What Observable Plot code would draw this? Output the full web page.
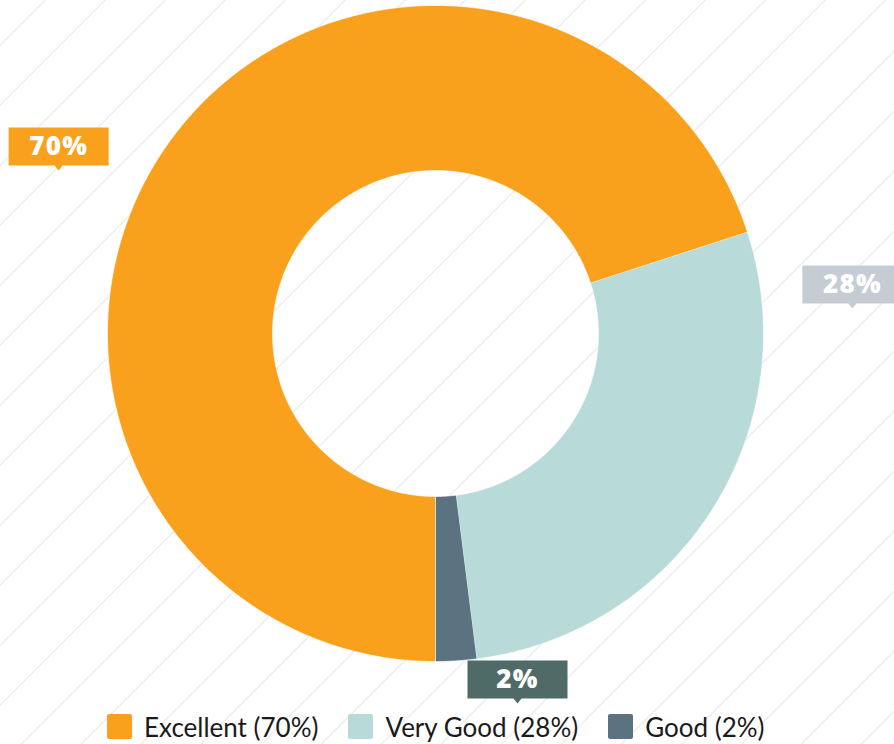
<!DOCTYPE html>
<html>
<head>
<meta charset="utf-8">
<script src="https://cdn.jsdelivr.net/npm/d3@7"></script>
<script src="https://cdn.jsdelivr.net/npm/@observablehq/plot@0.6"></script>
<style>
  html, body { margin: 0; padding: 0; }
  body {
    width: 894px; height: 744px; overflow: hidden;
    background: repeating-linear-gradient(135deg,
      rgba(0,0,0,0) 0px, rgba(0,0,0,0) 30.8px,
      #f0f0f0 31.4px, #f0f0f0 32.6px,
      rgba(0,0,0,0) 33.2px, rgba(0,0,0,0) 42.43px);
  }
  #chart svg { display: block; background: transparent; }
  #chart svg text { letter-spacing: 1.2px; }
  #legendWrap { padding-left: 107px; }
  #legendWrap > div { margin: 0 !important; }
  #legendWrap span[class$="-swatch"] { margin-right: 30px !important; }
  #legendWrap span[class$="-swatch"] > svg { margin-right: 12px !important; }
  #legendWrap svg rect { rx: 2px; }
</style>
</head>
<body>
<div id="chart"></div>
<div id="legendWrap"></div>
<script>
// ---- data ----
const categories = ["Excellent", "Very Good", "Good"];
const values = [70, 28, 2];
const sliceColors = ["#F9A11C", "#B8DBD9", "#5B7280"];
const labelFills = ["#F9A11C", "#C5CCD3", "#506A68"];

// ---- layout (chart units = outer radius) ----
const W = 894, H = 710;
const CX = 435, CY = 333, R = 328;
const innerRatio = 163 / 328;
const calloutTips = [[-1.149, 0.497], [1.271, 0.076], [0.250, -1.128]];

const pie = d3.pie().sort(null).value(d => d.value)
  .startAngle(Math.PI).endAngle(3 * Math.PI);
const data = categories.map((c, i) => ({category: c, value: values[i]}));
const arcs = pie(data);

const pts = [];
for (const a of arcs) {
  const n = Math.max(2, Math.ceil((a.endAngle - a.startAngle) / (Math.PI / 360))) + 1;
  for (let k = 0; k < n; k++) {
    const t = a.startAngle + (a.endAngle - a.startAngle) * k / (n - 1);
    pts.push({category: a.data.category, x: Math.sin(t), y: Math.cos(t)});
  }
  for (let k = n - 1; k >= 0; k--) {
    const t = a.startAngle + (a.endAngle - a.startAngle) * k / (n - 1);
    pts.push({category: a.data.category, x: innerRatio * Math.sin(t), y: innerRatio * Math.cos(t)});
  }
}

const labels = categories.map((c, i) => ({
  category: c, text: values[i] + "%", fill: labelFills[i],
  x: calloutTips[i][0], y: calloutTips[i][1]
}));

const callout = {
  draw(ctx) {
    ctx.moveTo(0, 0);
    ctx.lineTo(-4, -5);
    ctx.lineTo(-50, -5);
    ctx.lineTo(-50, -43);
    ctx.lineTo(50, -43);
    ctx.lineTo(50, -5);
    ctx.lineTo(4, -5);
    ctx.closePath();
  }
};

const chart = Plot.plot({
  width: W, height: H,
  margin: 0,
  x: {domain: [-CX / R, (W - CX) / R], axis: null},
  y: {domain: [-(H - CY) / R, CY / R], axis: null},
  color: {domain: categories, range: sliceColors},
  style: {background: "transparent", overflow: "visible"},
  marks: [
    Plot.line(pts, {x: "x", y: "y", z: "category", fill: "category", stroke: "white", strokeWidth: 0.6, curve: "linear"}),
    Plot.dot(labels, {x: "x", y: "y", symbol: callout, fill: d => d.fill, stroke: "none", r: 10}),
    Plot.text(labels, {x: "x", y: "y", text: "text", dy: -24, fill: "white",
      fontSize: 26, fontWeight: 800, fontFamily: "Open Sans", textAnchor: "middle"})
  ]
});
document.getElementById("chart").appendChild(chart);

const legend = Plot.legend({
  color: {domain: categories, range: sliceColors},
  swatchSize: 25,
  tickFormat: d => `${d} (${values[categories.indexOf(d)]}%)`,
  style: {fontFamily: "Lato", fontSize: "26px", color: "#1a1a1a", background: "transparent"}
});
document.getElementById("legendWrap").appendChild(legend);
</script>
</body>
</html>
